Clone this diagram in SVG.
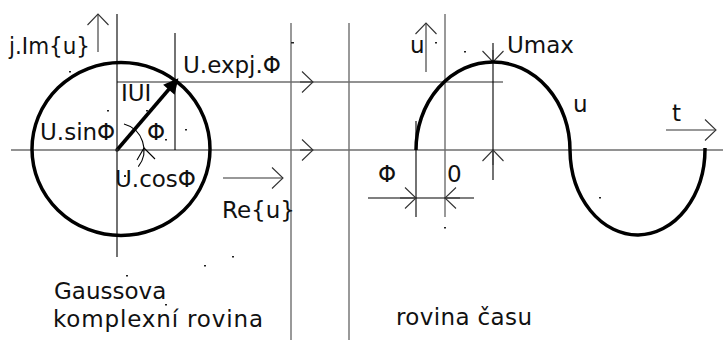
<svg xmlns="http://www.w3.org/2000/svg" width="723" height="340" viewBox="0 0 723 340">
<style>
.t{font-family:"DejaVu Sans","Verdana",sans-serif;font-size:23px;fill:#111}
.g{stroke:#6e6e6e;stroke-width:1.4;fill:none}
.k{stroke:#000;stroke-width:1.1;fill:none}
.a{stroke:#333;stroke-width:1.1;fill:none;marker-end:url(#ah)}
.thick{stroke:#000;stroke-width:3.5;fill:none}
.d{fill:#222}
</style>
<defs>
<marker id="ah" markerUnits="userSpaceOnUse" viewBox="0 0 24 24" markerWidth="24" markerHeight="24" refX="12" refY="12" orient="auto" overflow="visible">
<path d="M1,1.5 L12,12 L1,22.5" fill="none" stroke="#333" stroke-width="1.1"/>
</marker>
</defs>
<rect width="723" height="340" fill="#fff"/>
<g id="connectors">
<line class="g" x1="11" y1="150" x2="723" y2="150"/>
<line class="g" x1="117" y1="82" x2="503" y2="82"/>
<line class="g" x1="291" y1="23" x2="291" y2="340"/>
<line class="g" x1="349" y1="23" x2="349" y2="340"/>
<line class="k" x1="117" y1="14" x2="117" y2="257"/>
<line class="k" x1="175" y1="33" x2="175" y2="150"/>
<line class="g" x1="445" y1="14" x2="445" y2="217"/>
<line class="k" x1="493" y1="43" x2="493" y2="180"/>
<line class="k" x1="416" y1="121" x2="416" y2="217"/>
<line class="k" x1="368" y1="198" x2="474" y2="198"/>
<line class="a" x1="98" y1="52" x2="98" y2="14"/>
<line class="a" x1="426" y1="72" x2="426" y2="23"/>
<line class="a" x1="300" y1="82" x2="313" y2="82"/>
<line class="a" x1="300" y1="150" x2="313" y2="150"/>
<line class="a" x1="223" y1="178" x2="283" y2="178"/>
<line class="a" x1="666" y1="130" x2="716" y2="130"/>
<line class="a" x1="493" y1="50" x2="493" y2="62"/>
<line class="a" x1="493" y1="165" x2="493" y2="150"/>
<line class="a" x1="400" y1="198" x2="416" y2="198"/>
<line class="a" x1="460" y1="198" x2="445" y2="198"/>
<path d="M124,124 A27,27 0 0 1 138.3,166.6" class="k"/>
<polyline points="137,160 144,148 155,159" class="k"/>
<line x1="117" y1="150" x2="170" y2="88" stroke="#000" stroke-width="3.5"/>
<polygon points="177,80 165,85 174,93" fill="#000" stroke="#000" stroke-width="2" stroke-linejoin="miter"/>
</g>
<g id="circle">
<ellipse cx="121" cy="149" rx="89" ry="86.5" class="thick"/>
</g>
<g id="sine">
<path d="M416,150 A77,88 0 0 1 570,150 A67.5,86 0 0 0 705,148" class="thick" stroke-width="3.2"/>
</g>
<g id="labels">
<text class="t" x="9" y="54" textLength="81" lengthAdjust="spacingAndGlyphs">j.Im{u}</text>
<text class="t" x="183" y="73">U.expj.Φ</text>
<text class="t" x="121" y="101">IUI</text>
<text class="t" x="40" y="140">U.sinΦ</text>
<text class="t" x="147" y="140">Φ</text>
<text class="t" x="115" y="187">U.cosΦ</text>
<text class="t" x="222" y="218">Re{u}</text>
<text class="t" x="54" y="299">Gaussova</text>
<text class="t" x="53" y="327" textLength="210" lengthAdjust="spacing">komplexní rovina</text>
<text class="t" x="410" y="53">u</text>
<text class="t" x="507" y="53">Umax</text>
<text class="t" x="573" y="112">u</text>
<text class="t" x="672" y="121">t</text>
<text class="t" x="378" y="182">Φ</text>
<text class="t" x="447" y="182">0</text>
<text class="t" x="396" y="325" textLength="136" lengthAdjust="spacing">rovina času</text>
</g>
<g id="dots">
<rect class="d" x="69" y="71" width="2" height="1.5"/>
<rect class="d" x="107" y="110" width="2" height="1.5"/>
<rect class="d" x="146" y="110" width="2" height="1.5"/>
<rect class="d" x="185" y="129" width="2" height="1.5"/>
<rect class="d" x="165" y="139" width="2" height="1.5"/>
<rect class="d" x="124" y="175" width="2" height="2"/>
<rect class="d" x="232" y="256" width="2" height="1.5"/>
<rect class="d" x="204" y="265" width="2" height="1.5"/>
<rect class="d" x="126" y="275" width="2" height="1.5"/>
<rect class="d" x="165" y="304" width="2" height="1.5"/>
<rect class="d" x="435" y="42" width="2" height="1.5"/>
<rect class="d" x="464" y="51" width="2" height="1.5"/>
<rect class="d" x="599" y="197" width="2" height="1.5"/>
<rect class="d" x="444" y="227" width="2" height="1.5"/>
<rect class="d" x="291" y="42" width="3" height="1.5"/>
<circle class="d" cx="117" cy="150" r="1.8"/>
</g>
</svg>
